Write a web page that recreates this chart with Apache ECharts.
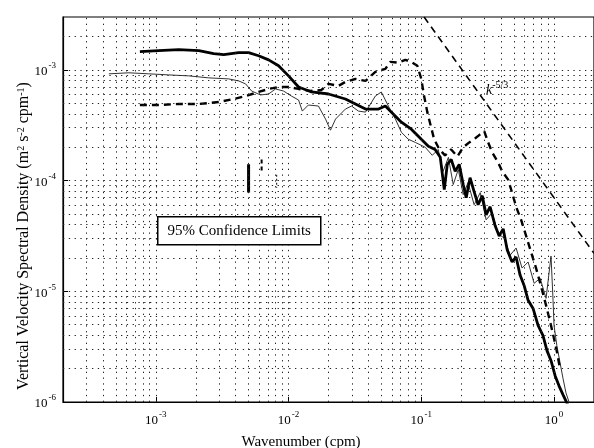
<!DOCTYPE html>
<html>
<head>
<meta charset="utf-8">
<script src="https://cdn.jsdelivr.net/npm/echarts@6/dist/echarts.min.js"></script>
<style>
  html, body { margin: 0; padding: 0; background: #fff; }
  #chart { width: 594px; height: 448px; }
</style>
</head>
<body>
<div id="chart"></div>
<script>
// wavenumber (cpm) vs spectral density
const thickSolid = [
  [7.59e-4, 1.46e-3], [1.05e-3, 1.49e-3], [1.49e-3, 1.52e-3], [2.11e-3, 1.49e-3],
  [2.73e-3, 1.40e-3], [3.25e-3, 1.37e-3], [4.21e-3, 1.43e-3], [5.0e-3, 1.43e-3],
  [5.95e-3, 1.34e-3], [7.08e-3, 1.23e-3], [8.41e-3, 1.09e-3], [0.01, 8.82e-4],
  [0.0119, 7.0e-4], [0.0149, 6.31e-4], [0.02, 6.05e-4], [0.0268, 5.45e-4],
  [0.0319, 4.91e-4], [0.038, 4.42e-4], [0.0476, 4.42e-4], [0.0536, 4.71e-4],
  [0.0594, 4.15e-4], [0.0708, 3.37e-4], [0.0841, 2.91e-4], [0.1, 2.36e-4],
  [0.113, 2.04e-4], [0.127, 1.91e-4], [0.139, 1.62e-4], [0.149, 8.28e-5],
  [0.157, 1.40e-4], [0.168, 1.55e-4], [0.18, 1.21e-4], [0.193, 1.40e-4],
  [0.207, 9.2e-5], [0.218, 7.0e-5], [0.233, 1.06e-4], [0.25, 7.94e-5],
  [0.268, 6.05e-5], [0.288, 7.3e-5], [0.308, 4.91e-5], [0.33, 5.8e-5],
  [0.36, 3.9e-5], [0.386, 3.16e-5], [0.414, 3.66e-5], [0.444, 2.36e-5],
  [0.483, 1.84e-5], [0.518, 2.04e-5], [0.555, 1.40e-5], [0.595, 1.13e-5],
  [0.638, 8.28e-6], [0.695, 7.0e-6], [0.758, 4.91e-6], [0.826, 3.98e-6],
  [0.885, 2.91e-6], [0.949, 2.36e-6], [1.02, 1.72e-6], [1.09, 1.40e-6],
  [1.17, 1.16e-6], [1.27, 9.4e-7]
]
const thinSolid = [
  [4.43e-4, 9.2e-4], [6.27e-4, 9.4e-4], [8.86e-4, 9.2e-4], [1.25e-3, 9.0e-4],
  [1.77e-3, 8.82e-4], [2.5e-3, 8.46e-4], [3.54e-3, 8.28e-4], [4.21e-3, 7.94e-4],
  [4.75e-3, 7.46e-4], [5.27e-3, 6.44e-4], [6.15e-3, 5.93e-4], [7.08e-3, 6.05e-4],
  [7.98e-3, 6.72e-4], [9.16e-3, 6.44e-4], [0.0105, 5.8e-4], [0.0119, 5.34e-4],
  [0.0127, 4.24e-4], [0.0141, 4.81e-4], [0.0168, 4.71e-4], [0.019, 3.59e-4],
  [0.0207, 2.85e-4], [0.0226, 3.59e-4], [0.0268, 4.42e-4], [0.0298, 4.71e-4],
  [0.0336, 4.24e-4], [0.038, 4.15e-4], [0.0451, 5.8e-4], [0.05, 6.31e-4],
  [0.0565, 4.71e-4], [0.0638, 3.59e-4], [0.0708, 2.73e-4], [0.0798, 2.36e-4],
  [0.0902, 2.21e-4], [0.107, 2.0e-4], [0.121, 1.69e-4], [0.134, 1.91e-4],
  [0.146, 1.21e-4], [0.16, 1.62e-4], [0.174, 9.2e-5], [0.19, 1.26e-4],
  [0.207, 7.46e-5], [0.225, 9.59e-5], [0.25, 6.05e-5], [0.278, 7.78e-5],
  [0.308, 4.42e-5], [0.342, 5.12e-5], [0.379, 3.3e-5], [0.421, 3.03e-5],
  [0.467, 2.12e-5], [0.518, 2.46e-5], [0.574, 1.62e-5], [0.638, 1.84e-5],
  [0.708, 1.18e-5], [0.786, 1.31e-5], [0.871, 8.63e-6], [0.949, 2.08e-5],
  [0.983, 8.28e-6], [1.0, 4.91e-6], [1.05, 3.23e-6], [1.11, 2.26e-6],
  [1.17, 1.62e-6], [1.23, 1.21e-6], [1.32, 9.4e-7]
]
const dashed = [
  [7.59e-4, 4.81e-4], [1.05e-3, 4.81e-4], [1.49e-3, 4.91e-4], [2.11e-3, 4.91e-4],
  [2.98e-3, 5.12e-4], [3.86e-3, 5.45e-4], [4.75e-3, 5.8e-4], [5.95e-3, 6.31e-4],
  [7.08e-3, 6.72e-4], [8.41e-3, 7.0e-4], [0.01, 7.0e-4], [0.0119, 6.72e-4],
  [0.0146, 6.44e-4], [0.0177, 6.58e-4], [0.02, 7.46e-4], [0.0238, 7.16e-4],
  [0.0268, 7.78e-4], [0.0319, 8.28e-4], [0.038, 7.94e-4], [0.0451, 9.59e-4],
  [0.0536, 1.02e-3], [0.0584, 1.18e-3], [0.0672, 1.16e-3], [0.0759, 1.23e-3],
  [0.0841, 1.18e-3], [0.0933, 1.09e-3], [0.1, 8.28e-4], [0.105, 5.8e-4],
  [0.111, 4.15e-4], [0.117, 3.23e-4], [0.125, 2.36e-4], [0.137, 1.91e-4],
  [0.151, 1.69e-4], [0.168, 1.91e-4], [0.187, 1.65e-4], [0.207, 2.0e-4],
  [0.23, 2.21e-4], [0.255, 2.41e-4], [0.273, 2.57e-4], [0.298, 2.79e-4],
  [0.319, 2.21e-4], [0.342, 1.8e-4], [0.379, 1.46e-4], [0.407, 1.21e-4],
  [0.451, 1.02e-4], [0.483, 7.78e-5], [0.518, 5.8e-5], [0.565, 4.42e-5],
  [0.616, 3.16e-5], [0.671, 2.26e-5], [0.732, 1.62e-5], [0.798, 1.11e-5],
  [0.871, 7.46e-6], [0.949, 4.91e-6], [1.04, 3.03e-6], [1.11, 2.0e-6]
]
// k^-5/3 reference slope
const slopeLine = [[0.105, 3.0e-3], [2, 2.2e-5]]
// 95% confidence bars
const confThick = [[5.0e-3, 1.40e-4], [5.0e-3, 7.8e-5]]
const confDashed = [[6.27e-3, 1.55e-4], [6.27e-3, 1.21e-4]]
const confThin = [[8.13e-3, 1.13e-4], [8.13e-3, 8.6e-5]]

const xDecades = [-4, -3, -2, -1, 0]
const yDecades = [-6, -5, -4, -3]
const xMin = 2e-4, xMax = 2
const yMin = 1e-6, yMax = 3e-3

const serif = '"Liberation Serif", "DejaVu Serif", serif'

// dotted grid at 1..9 x 10^n
const gridMarks = []
xDecades.forEach(d => {
  for (let m = 1; m <= 9; m++) {
    const v = m * Math.pow(10, d)
    if (v > xMin * 1.001 && v < xMax * 0.999) gridMarks.push({ xAxis: v })
  }
})
yDecades.forEach(d => {
  for (let m = 1; m <= 9; m++) {
    const v = m * Math.pow(10, d)
    if (v > yMin * 1.001 && v < yMax * 0.999) gridMarks.push({ yAxis: v })
  }
})

function powLabel (v) {
  const e = Math.log10(v)
  const r = Math.round(e)
  if (Math.abs(e - r) > 1e-6) return ''
  return '{b|10}{e|' + r + '}'
}

const labelRich = {
  b: { fontFamily: serif, fontSize: 13, color: '#000', lineHeight: 17, verticalAlign: 'bottom' },
  e: { fontFamily: serif, fontSize: 9, color: '#000', verticalAlign: 'top', padding: [0, 0, 0, 1] }
}

const myChart = echarts.init(document.getElementById('chart'))

myChart.setOption({
  animation: false,
  backgroundColor: '#fff',
  grid: {
    left: 63,
    right: -1,
    top: 17,
    bottom: 46,
    show: true,
    borderColor: '#000',
    borderWidth: 1.2
  },
  xAxis: {
    type: 'log',
    logBase: 10,
    min: xMin,
    max: xMax,
    axisLine: { show: true, lineStyle: { color: '#000', width: 1.2 } },
    axisTick: { show: true, inside: true, length: 5, lineStyle: { color: '#000' } },
    splitLine: { show: false },
    axisLabel: {
      formatter: powLabel,
      rich: labelRich,
      margin: 8,
      showMinLabel: false,
      showMaxLabel: false
    }
  },
  yAxis: {
    type: 'log',
    logBase: 10,
    min: yMin,
    max: yMax,
    axisLine: { show: true, lineStyle: { color: '#000', width: 1.2 } },
    axisTick: { show: true, inside: true, length: 5, lineStyle: { color: '#000' } },
    splitLine: { show: false },
    axisLabel: {
      formatter: powLabel,
      rich: labelRich,
      margin: 7,
      showMaxLabel: false
    }
  },
  graphic: [
    {
      type: 'group',
      left: 157,
      top: 216,
      z: 100,
      children: [
        {
          type: 'rect',
          z: 100,
          shape: { x: 0, y: 0, width: 163, height: 28 },
          style: { fill: '#fff', stroke: '#000', lineWidth: 1.5 }
        },
        {
          type: 'text',
          z: 101,
          x: 81.5,
          y: 14,
          style: {
            text: '95% Confidence Limits',
            font: '15px ' + serif,
            fill: '#000',
            align: 'center',
            verticalAlign: 'middle'
          }
        }
      ]
    },
    {
      type: 'text',
      x: 486,
      y: 80,
      z: 100,
      style: {
        text: '{k|k}{s|-5/3}',
        rich: {
          k: { font: 'italic 14px ' + serif, fill: '#000', lineHeight: 17, verticalAlign: 'bottom' },
          s: { font: '10px ' + serif, fill: '#000', verticalAlign: 'top' }
        }
      }
    },
    {
      type: 'text',
      x: 301,
      y: 442,
      style: {
        text: 'Wavenumber (cpm)',
        font: '15px ' + serif,
        fill: '#000',
        align: 'center',
        verticalAlign: 'middle'
      }
    },
    {
      type: 'text',
      x: 24,
      y: 236,
      rotation: Math.PI / 2,
      style: {
        text: 'Vertical Velocity Spectral Density (m{s|2} s{s|-2} cpm{s|-1})',
        font: '16px ' + serif,
        fill: '#000',
        align: 'center',
        verticalAlign: 'middle',
        rich: {
          s: { font: '10px ' + serif, fill: '#000', verticalAlign: 'top' }
        }
      }
    }
  ],
  series: [
    {
      name: 'grid',
      type: 'line',
      data: [[1e-3, 1e-4]],
      showSymbol: false,
      lineStyle: { opacity: 0 },
      silent: true,
      z: 1,
      markLine: {
        silent: true,
        precision: 10,
        symbol: ['none', 'none'],
        label: { show: false },
        lineStyle: { type: [1.3, 4.5], color: '#222', width: 1 },
        data: gridMarks
      }
    },
    {
      name: 'thin',
      type: 'line',
      data: thinSolid,
      showSymbol: false,
      z: 3,
      lineStyle: { color: '#333', width: 1 }
    },
    {
      name: 'thick',
      type: 'line',
      data: thickSolid,
      showSymbol: false,
      z: 4,
      lineStyle: { color: '#000', width: 2.8 }
    },
    {
      name: 'dashed',
      type: 'line',
      data: dashed,
      showSymbol: false,
      z: 4,
      lineStyle: { color: '#000', width: 2.4, type: [7, 5] }
    },
    {
      name: 'slope',
      type: 'line',
      data: slopeLine,
      showSymbol: false,
      clip: true,
      z: 4,
      lineStyle: { color: '#000', width: 1.6, type: [7, 5] }
    },
    {
      name: 'ci thick',
      type: 'line',
      data: confThick,
      showSymbol: false,
      z: 4,
      lineStyle: { color: '#000', width: 3 }
    },
    {
      name: 'ci dashed',
      type: 'line',
      data: confDashed,
      showSymbol: false,
      z: 4,
      lineStyle: { color: '#000', width: 2, type: [4, 3] }
    },
    {
      name: 'ci thin',
      type: 'line',
      data: confThin,
      showSymbol: false,
      z: 4,
      lineStyle: { color: '#333', width: 1.2, type: [2, 2] }
    }
  ]
})
</script>
</body>
</html>
